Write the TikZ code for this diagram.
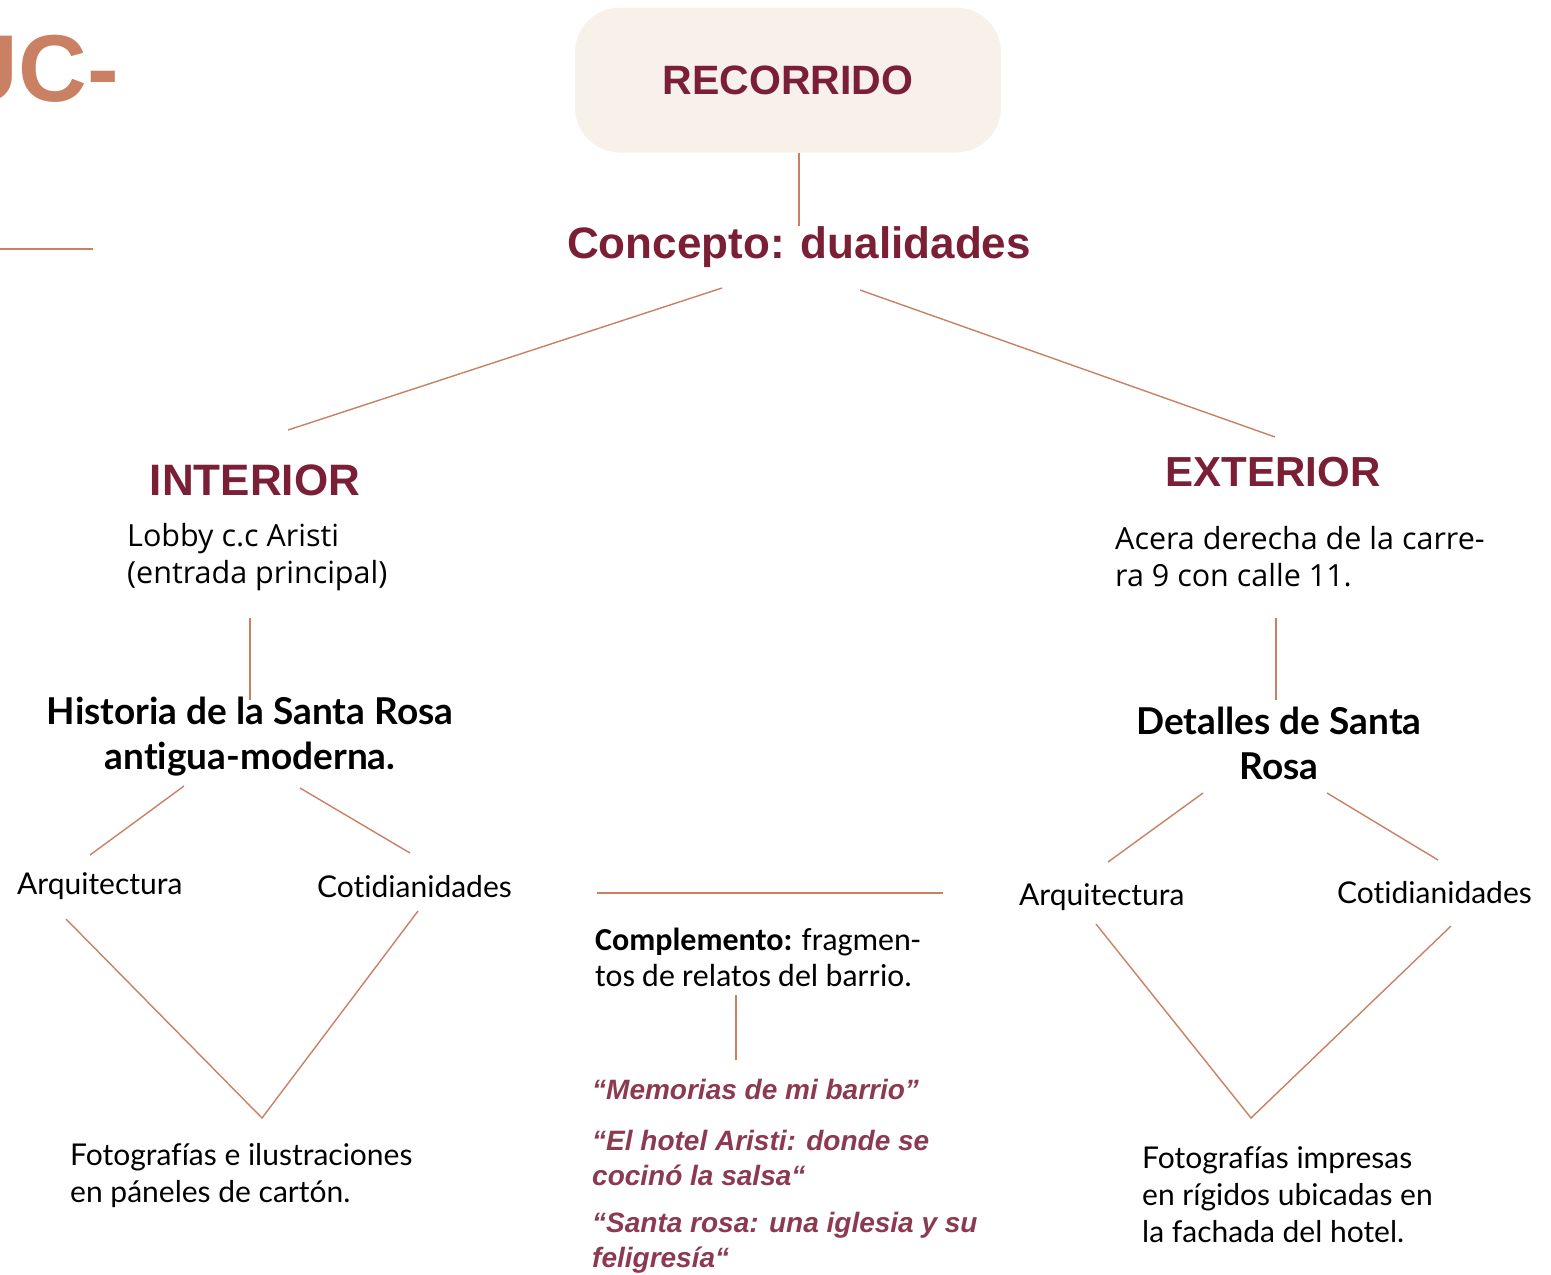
\documentclass[tikz,border=0pt]{standalone}
\usepackage{fontspec}
\setmainfont{Lato}[Ligatures=NoCommon]
\newfontfamily\headfont{Liberation Sans}
\newfontfamily\notefont{Carlito}
\newfontfamily\placefont{Open Sans}
\definecolor{maroon}{HTML}{7A1F35}
\definecolor{copper}{HTML}{C98063}
\definecolor{cream}{HTML}{F8F1EA}
\definecolor{rose}{HTML}{8C3A50}
\tikzset{
	link/.style={draw=copper,line width=1.4pt},
	head/.style={font=\headfont\bfseries\fontsize{44}{48}\selectfont,text=maroon,inner sep=0pt},
	body/.style={font=\fontsize{30}{37}\selectfont,align=left,inner sep=0pt,anchor=west},
	place/.style={body,font=\placefont\fontsize{30.5}{37}\selectfont},
	topic/.style={font=\bfseries\fontsize{37}{45}\selectfont,align=center,inner sep=0pt},
	quote/.style={font=\headfont\bfseries\itshape\fontsize{28}{35}\selectfont,text=rose,align=left,inner sep=0pt,anchor=west},
}
\begin{document}
\begin{tikzpicture}[x=1pt,y=-1pt]
	\useasboundingbox (0,0) rectangle (1551,1275);
	\clip (0,0) rectangle (1551,1275);

	% fragment of the page title
	\node[anchor=base east,inner sep=0pt,text=copper,font=\headfont\bfseries\fontsize{95}{95}\selectfont] (frag) at (119,101) {UC-};
	\coordinate (r0) at (0,249);
	\coordinate (r1) at (93,249);
	\draw[link] (r0) -- (r1);

	% top
	\node[fill=cream,rounded corners=45pt,minimum width=426pt,minimum height=145pt,inner sep=0pt,
		font=\headfont\bfseries\fontsize{41}{41}\selectfont,text=maroon] (rec) at (788,80) {RECORRIDO};
	\node[head] (concepto) at (799,247) {Concepto: dualidades};
	\draw[link] (rec.south -| concepto.north) -- (concepto.north);

	\node[head] (int) at (255,480) {INTERIOR};
	\node[head,font=\headfont\bfseries\fontsize{42}{48}\selectfont] (ext) at (1273,472) {EXTERIOR};
	\coordinate (c1) at (722,288);
	\coordinate (c2) at (288,430);
	\coordinate (c3) at (860,290);
	\coordinate (c4) at (1275,437);
	\draw[link] (c1) -- (c2);
	\draw[link] (c3) -- (c4);

	% interior branch
	\node[place] (lobby) at (127,557) {Lobby c.c Aristi\\(entrada principal)};
	\node[topic] (hist) at (250,737) {Historia de la Santa Rosa\\antigua-moderna.};
	\coordinate (i1) at (250,618);
	\coordinate (i2) at (250,700);
	\draw[link] (i1) -- (i2);
	\node[body] (arqi) at (17,886) {Arquitectura};
	\node[body] (coti) at (317,887) {Cotidianidades};
	\coordinate (i3) at (184,786);
	\coordinate (i4) at (90,855);
	\coordinate (i5) at (300,788);
	\coordinate (i6) at (410,853);
	\draw[link] (i3) -- (i4);
	\draw[link] (i5) -- (i6);
	\coordinate (i7) at (66,919);
	\coordinate (i8) at (262,1118);
	\coordinate (i9) at (418,911);
	\draw[link] (i7) -- (i8) -- (i9);
	\node[body] (fotoi) at (70,1176) {Fotografías e ilustraciones\\en páneles de cartón.};

	% middle
	\coordinate (m1) at (597,893);
	\coordinate (m2) at (943,893);
	\draw[link] (m1) -- (m2);
	\node[body,font=\notefont\fontsize{32}{36}\selectfont] (compl) at (595,957) {\textbf{Complemento:} fragmen-\\tos de relatos del barrio.};
	\coordinate (m3) at (736,995);
	\coordinate (m4) at (736,1060);
	\draw[link] (m3) -- (m4);
	\node[quote] (q1) at (592,1089) {“Memorias de mi barrio”};
	\node[quote] (q2) at (592,1158) {“El hotel Aristi: donde se\\cocinó la salsa“};
	\node[quote] (q3) at (592,1243) {“Santa rosa: una iglesia y su\\feligresía“};

	% exterior branch
	\node[place] (acera) at (1115,557) {Acera derecha de la carre-\\ra 9 con calle 11.};
	\node[topic] (det) at (1279,743) {Detalles de Santa\\Rosa};
	\coordinate (e1) at (1276,618);
	\coordinate (e2) at (1276,700);
	\draw[link] (e1) -- (e2);
	\node[body] (arqe) at (1019,897) {Arquitectura};
	\node[body] (cote) at (1337,893) {Cotidianidades};
	\coordinate (e3) at (1203,793);
	\coordinate (e4) at (1108,862);
	\coordinate (e5) at (1327,793);
	\coordinate (e6) at (1438,860);
	\draw[link] (e3) -- (e4);
	\draw[link] (e5) -- (e6);
	\coordinate (e7) at (1096,924);
	\coordinate (e8) at (1251,1118);
	\coordinate (e9) at (1451,926);
	\draw[link] (e7) -- (e8) -- (e9);
	\node[body] (fotoe) at (1142,1195) {Fotografías impresas\\en rígidos ubicadas en\\la fachada del hotel.};
\end{tikzpicture}
\end{document}
